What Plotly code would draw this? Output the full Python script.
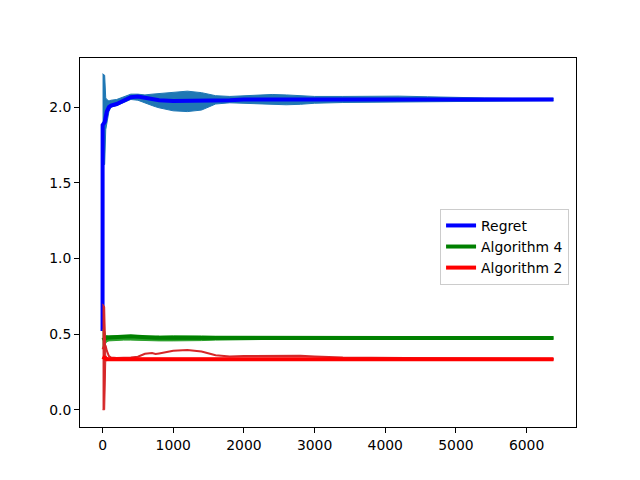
import plotly.graph_objs as go

# sample positions (iterations)
steps = [0, 1, 30, 45, 60, 90, 120, 200, 300, 400, 500, 600, 700, 750, 800,
         1000, 1200, 1400, 1600, 1800, 2000, 2200, 2400, 2600, 2800, 3000,
         3400, 3800, 4200, 4600, 5000, 5400, 5800, 6200, 6380]

# Regret
regret_mean = [0.52, 1.88, 1.90, 1.95, 1.97, 2.00, 2.01, 2.02, 2.04, 2.065, 2.07, 2.06, 2.05, 2.048, 2.045,
               2.04, 2.04, 2.04, 2.045, 2.045, 2.05, 2.05, 2.05, 2.048, 2.047, 2.046,
               2.048, 2.05, 2.052, 2.052, 2.05, 2.048, 2.048, 2.05, 2.05]
regret_upper = [2.22, 2.22, 2.21, 2.06, 2.05, 2.04, 2.045, 2.05, 2.065, 2.085, 2.085, 2.08, 2.085, 2.087, 2.09,
                2.10, 2.105, 2.095, 2.075, 2.07, 2.075, 2.082, 2.083, 2.08, 2.075, 2.07,
                2.07, 2.072, 2.072, 2.068, 2.062, 2.06, 2.058, 2.058, 2.058]
regret_lower = [1.62, 1.62, 1.62, 1.85, 1.90, 1.97, 2.00, 2.01, 2.03, 2.05, 2.045, 2.03, 2.01, 2.002, 1.995,
                1.975, 1.97, 1.98, 2.02, 2.028, 2.025, 2.02, 2.018, 2.015, 2.018, 2.025,
                2.03, 2.032, 2.035, 2.038, 2.04, 2.04, 2.04, 2.042, 2.042]

# Algorithm 4
alg4_mean = [0.46, 0.46, 0.47, 0.475, 0.476, 0.478, 0.479, 0.481, 0.484, 0.485, 0.483, 0.478, 0.476, 0.476, 0.475,
             0.475, 0.475, 0.475, 0.475, 0.476, 0.476, 0.476, 0.476, 0.475, 0.475, 0.475,
             0.476, 0.477, 0.477, 0.476, 0.475, 0.475, 0.474, 0.474, 0.474]
alg4_upper = [0.53, 0.53, 0.52, 0.49, 0.488, 0.487, 0.488, 0.489, 0.492, 0.493, 0.49, 0.487, 0.486, 0.486, 0.487,
              0.489, 0.49, 0.488, 0.486, 0.486, 0.486, 0.486, 0.485, 0.485, 0.485, 0.485,
              0.485, 0.486, 0.486, 0.485, 0.484, 0.483, 0.482, 0.482, 0.482]
alg4_lower = [0.40, 0.40, 0.42, 0.44, 0.45, 0.455, 0.456, 0.458, 0.46, 0.46, 0.458, 0.457, 0.456, 0.456, 0.455,
              0.455, 0.455, 0.457, 0.46, 0.462, 0.463, 0.464, 0.465, 0.465, 0.465, 0.465,
              0.466, 0.467, 0.467, 0.467, 0.467, 0.467, 0.467, 0.467, 0.467]

# Algorithm 2
alg2_mean = [0.35, 0.35, 0.34, 0.335, 0.334, 0.333, 0.333, 0.333, 0.333, 0.333, 0.333, 0.333, 0.333, 0.333, 0.333,
             0.333, 0.333, 0.333, 0.333, 0.333, 0.333, 0.333, 0.333, 0.333, 0.333, 0.333,
             0.333, 0.333, 0.333, 0.333, 0.333, 0.333, 0.333, 0.333, 0.333]
alg2_upper = [0.70, 0.70, 0.68, 0.36, 0.345, 0.34, 0.34, 0.34, 0.34, 0.34, 0.34, 0.34, 0.34, 0.34, 0.34,
              0.34, 0.34, 0.34, 0.34, 0.34, 0.34, 0.34, 0.34, 0.34, 0.34, 0.34,
              0.34, 0.34, 0.34, 0.34, 0.34, 0.34, 0.34, 0.34, 0.34]
alg2_lower = [0.0, 0.0, 0.0, 0.32, 0.325, 0.327, 0.327, 0.327, 0.327, 0.327, 0.327, 0.327, 0.327, 0.327, 0.327,
              0.327, 0.327, 0.327, 0.327, 0.327, 0.327, 0.327, 0.327, 0.327, 0.327, 0.327,
              0.327, 0.327, 0.327, 0.327, 0.327, 0.327, 0.327, 0.327, 0.327]
alg2_peak = [0.40, 0.40, 0.43, 0.42, 0.39, 0.355, 0.345, 0.342, 0.342, 0.345, 0.35, 0.37, 0.375, 0.368, 0.372,
             0.39, 0.395, 0.385, 0.36, 0.352, 0.355, 0.355, 0.358, 0.355, 0.356, 0.352,
             0.345, 0.343, 0.341, 0.339, 0.337, 0.336, 0.335, 0.335, 0.335]

series = [
    ('Regret', regret_mean, regret_lower, regret_upper, '#0000ff', '#1f77b4'),
    ('Algorithm 4', alg4_mean, alg4_lower, alg4_upper, '#008000', '#2ca02c'),
    ('Algorithm 2', alg2_mean, alg2_lower, alg2_upper, '#ff0000', '#d62728'),
]

fig = go.Figure()

for name, mean, lower, upper, line_color, band_color in series:
    # band first, then the mean on top
    fig.add_trace(go.Scatter(x=steps, y=upper, mode='lines',
                             line=dict(color=band_color, width=1),
                             showlegend=False, hoverinfo='skip'))
    fig.add_trace(go.Scatter(x=steps, y=lower, mode='lines', fill='tonexty',
                             fillcolor=band_color, line=dict(color=band_color, width=1),
                             showlegend=False, hoverinfo='skip'))
    if name == 'Algorithm 2':
        fig.add_trace(go.Scatter(x=steps, y=alg2_peak, mode='lines',
                                 line=dict(color=band_color, width=2),
                                 showlegend=False, hoverinfo='skip'))
    fig.add_trace(go.Scatter(x=steps, y=mean, mode='lines', name=name,
                             line=dict(color=line_color, width=4)))

axis_style = dict(showgrid=False, zeroline=False, showline=True, linecolor='black',
                  linewidth=1, mirror=True, ticks='outside', ticklen=5, tickwidth=1,
                  tickcolor='black', tickfont=dict(size=13.9, color='black'))

fig.update_xaxes(range=[-319, 6699], tickvals=[0, 1000, 2000, 3000, 4000, 5000, 6000], **axis_style)
fig.update_yaxes(range=[-0.114, 2.324], tickvals=[0.0, 0.5, 1.0, 1.5, 2.0], tickformat='.1f', **axis_style)

# page body adds an 8px margin, so the figure is a bit smaller and shifted
fig.update_layout(
    width=632, height=472,
    margin=dict(l=72, r=64, t=50, b=53),
    paper_bgcolor='white', plot_bgcolor='white',
    font=dict(family='DejaVu Sans', size=13.9, color='black'),
    legend=dict(x=0.986, y=0.591, xanchor='right', yanchor='top', traceorder='normal',
                bgcolor='white', bordercolor='#cccccc', borderwidth=1,
                font=dict(size=13.9), itemwidth=30, tracegroupgap=0),
)

fig.write_html("out.html")
